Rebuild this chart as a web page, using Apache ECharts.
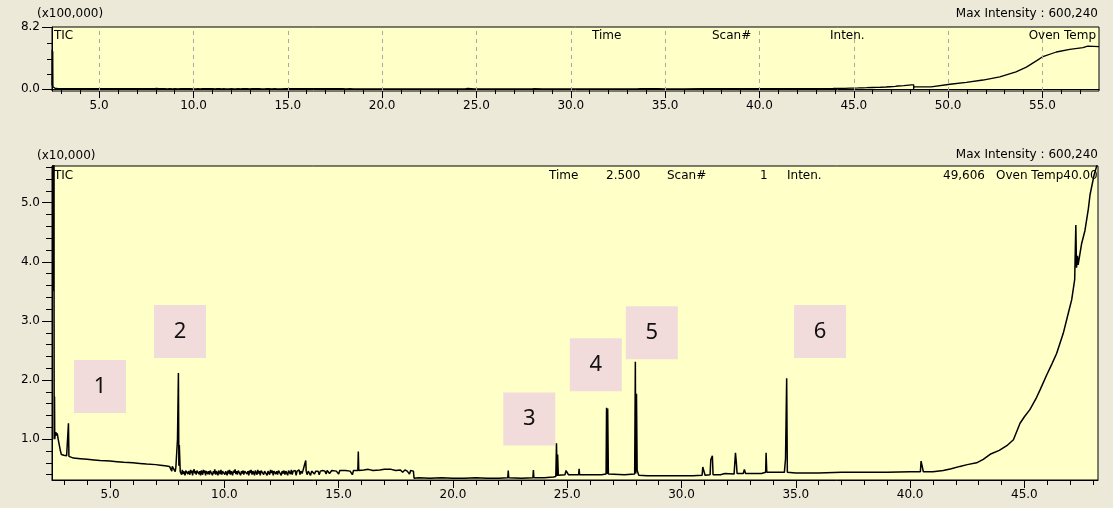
<!DOCTYPE html>
<html>
<head>
<meta charset="utf-8">
<script src="https://cdn.jsdelivr.net/npm/echarts@6/dist/echarts.min.js"></script>
<style>
html, body { margin: 0; padding: 0; background: #ece9d8; }
#main { width: 1113px; height: 508px; }
</style>
</head>
<body>
<div id="main"></div>
<script>
// TIC trace, 2.5 - 48.2 min, intensity in x10,000  ([time, intensity])
var ticStart = [
  [2.50, 4.96], [2.51, 52.0], [2.525, 3.5], [2.54, 50.0], [2.55, 3.1], [2.555, 1.0],
  [2.56, 1.05], [2.57, 1.72], [2.58, 1.0], [2.60, 1.08], [2.63, 1.12], [2.66, 1.06],
  [2.69, 1.10], [2.72, 1.02], [2.75, 0.96], [2.79, 0.88], [2.83, 0.80], [2.87, 0.74],
  [2.92, 0.72], [2.98, 0.73], [3.04, 0.71], [3.10, 0.72], [3.16, 0.70], [3.18, 1.27],
  [3.20, 0.71], [3.24, 0.69]
];
var ticEarly = [
  [3.4, 0.68], [3.7, 0.67], [4.0, 0.66], [4.3, 0.65], [4.56, 0.64], [4.8, 0.635],
  [5.0, 0.63], [5.3, 0.62], [5.6, 0.61], [6.0, 0.60], [6.3, 0.59], [6.6, 0.58],
  [7.0, 0.57], [7.2, 0.56], [7.4, 0.55], [7.6, 0.54], [7.7, 0.46], [7.72, 0.54],
  [7.8, 0.53], [7.85, 0.45], [7.88, 0.53], [7.93, 0.55], [7.95, 1.0], [7.97, 0.98],
  [7.99, 2.12], [8.01, 0.55], [8.03, 0.90], [8.05, 0.88], [8.07, 0.45]
];
var ticNoisy = [
  [8.10, 0.47], [8.13, 0.40], [8.16, 0.48], [8.19, 0.41], [8.22, 0.46], [8.26, 0.46],
  [8.28, 0.39], [8.31, 0.47], [8.35, 0.44], [8.37, 0.49], [8.40, 0.41], [8.43, 0.46],
  [8.47, 0.46], [8.49, 0.40], [8.52, 0.48], [8.56, 0.43], [8.58, 0.47], [8.61, 0.39],
  [8.64, 0.45], [8.68, 0.49], [8.71, 0.42], [8.74, 0.46], [8.77, 0.40], [8.80, 0.47],
  [8.84, 0.44], [8.86, 0.50], [8.89, 0.41], [8.92, 0.46], [8.96, 0.39], [8.99, 0.47],
  [9.02, 0.45], [9.05, 0.40], [9.08, 0.48], [9.12, 0.43], [9.15, 0.47], [9.18, 0.39],
  [9.21, 0.46], [9.25, 0.49], [9.28, 0.41], [9.31, 0.46], [9.35, 0.40], [9.38, 0.47],
  [9.42, 0.44], [9.45, 0.48], [9.48, 0.39], [9.52, 0.46], [9.55, 0.42], [9.58, 0.49],
  [9.62, 0.40], [9.65, 0.46], [9.69, 0.44], [9.72, 0.39], [9.75, 0.47], [9.79, 0.45],
  [9.82, 0.41], [9.85, 0.48], [9.89, 0.40], [9.92, 0.46], [9.96, 0.43], [9.99, 0.49],
  [10.02, 0.40], [10.06, 0.46], [10.09, 0.44], [10.12, 0.39], [10.16, 0.47], [10.19, 0.42],
  [10.23, 0.48], [10.26, 0.40], [10.30, 0.46], [10.33, 0.45], [10.36, 0.39], [10.40, 0.47],
  [10.43, 0.43], [10.47, 0.49], [10.50, 0.41], [10.54, 0.46], [10.57, 0.40], [10.61, 0.47],
  [10.64, 0.44], [10.68, 0.48], [10.71, 0.39], [10.75, 0.46], [10.78, 0.42], [10.82, 0.47],
  [10.85, 0.40], [10.89, 0.46], [10.92, 0.44], [10.96, 0.49], [10.99, 0.41], [11.03, 0.46],
  [11.07, 0.39], [11.10, 0.47], [11.14, 0.43], [11.17, 0.48], [11.21, 0.40], [11.25, 0.46],
  [11.28, 0.44], [11.32, 0.39], [11.35, 0.47], [11.39, 0.45], [11.43, 0.40], [11.46, 0.48],
  [11.50, 0.42], [11.54, 0.46], [11.57, 0.39], [11.61, 0.47], [11.65, 0.44], [11.68, 0.49],
  [11.72, 0.40], [11.76, 0.46], [11.80, 0.43], [11.83, 0.47], [11.87, 0.39], [11.91, 0.46],
  [11.95, 0.45], [11.98, 0.40], [12.02, 0.48], [12.06, 0.43], [12.10, 0.47], [12.14, 0.39],
  [12.17, 0.46], [12.21, 0.49], [12.25, 0.41], [12.29, 0.46], [12.33, 0.40], [12.37, 0.47],
  [12.41, 0.44], [12.45, 0.48], [12.49, 0.39], [12.53, 0.46], [12.57, 0.42], [12.61, 0.47],
  [12.65, 0.40], [12.69, 0.46], [12.73, 0.44], [12.77, 0.39], [12.81, 0.47], [12.85, 0.45],
  [12.89, 0.41], [12.93, 0.48], [12.97, 0.40], [13.01, 0.46], [13.05, 0.43], [13.10, 0.47],
  [13.14, 0.39], [13.18, 0.46], [13.22, 0.44], [13.27, 0.48], [13.31, 0.40], [13.35, 0.46],
  [13.40, 0.42], [13.44, 0.47], [13.48, 0.45], [13.52, 0.46], [13.56, 0.64], [13.58, 0.46],
  [13.62, 0.40], [13.67, 0.46], [13.72, 0.44], [13.77, 0.39], [13.82, 0.46], [13.88, 0.47],
  [13.94, 0.41], [14.0, 0.46], [14.1, 0.46], [14.15, 0.40], [14.2, 0.46], [14.3, 0.47],
  [14.4, 0.46], [14.45, 0.41], [14.5, 0.47], [14.6, 0.42], [14.7, 0.47], [14.9, 0.46],
  [15.0, 0.41], [15.05, 0.47], [15.3, 0.47], [15.5, 0.46], [15.6, 0.40], [15.65, 0.47],
  [15.84, 0.47], [15.86, 0.79], [15.88, 0.47], [16.1, 0.48], [16.3, 0.49], [16.5, 0.47],
  [16.8, 0.48], [17.0, 0.49], [17.3, 0.49], [17.5, 0.47], [17.7, 0.48], [17.8, 0.44],
  [17.9, 0.48], [18.0, 0.46], [18.1, 0.41], [18.15, 0.47], [18.27, 0.46], [18.3, 0.34]
];
var ticMid = [
  [18.5, 0.35], [19.0, 0.34], [19.5, 0.35], [20.0, 0.34], [20.5, 0.34], [21.0, 0.35],
  [21.5, 0.34], [22.0, 0.34], [22.4, 0.35], [22.42, 0.47], [22.44, 0.35], [23.0, 0.34],
  [23.5, 0.35], [23.52, 0.48], [23.54, 0.35], [24.0, 0.35], [24.4, 0.36], [24.5, 0.37],
  [24.53, 0.93], [24.56, 0.38], [24.58, 0.74], [24.61, 0.39], [24.9, 0.40], [24.95, 0.47],
  [25.0, 0.46], [25.05, 0.40], [25.5, 0.40], [25.52, 0.50], [25.54, 0.40], [26.0, 0.40],
  [26.5, 0.40], [26.7, 0.41], [26.72, 1.53], [26.75, 0.41], [26.77, 1.52], [26.8, 0.41],
  [27.5, 0.40], [27.95, 0.41], [27.98, 2.31], [28.0, 0.42], [28.03, 1.77], [28.06, 0.47],
  [28.1, 0.48], [28.13, 0.39], [28.5, 0.38], [29.0, 0.38], [29.5, 0.38], [30.0, 0.38],
  [30.5, 0.38], [30.9, 0.39], [30.93, 0.53], [31.0, 0.53], [31.03, 0.39], [31.25, 0.40],
  [31.28, 0.65], [31.32, 0.62], [31.35, 0.72], [31.38, 0.40], [31.7, 0.40], [31.75, 0.42],
  [31.9, 0.42], [31.95, 0.40], [32.3, 0.41], [32.36, 0.77], [32.40, 0.60], [32.43, 0.42],
  [32.7, 0.42], [32.75, 0.49], [32.8, 0.42], [33.5, 0.42], [33.68, 0.44], [33.7, 0.77],
  [33.73, 0.44], [34.5, 0.44], [34.55, 0.67], [34.6, 2.03], [34.63, 0.44], [35.0, 0.43],
  [36.0, 0.43], [37.0, 0.44], [38.0, 0.44], [39.0, 0.44], [40.0, 0.45], [40.45, 0.45],
  [40.48, 0.63], [40.55, 0.63], [40.58, 0.45], [41.0, 0.45]
];
var ticRise = [
  [41.45, 0.47], [41.8, 0.50], [42.18, 0.54], [42.5, 0.57], [42.91, 0.60], [43.2, 0.66],
  [43.5, 0.745], [43.9, 0.81], [44.23, 0.89], [44.52, 0.99], [44.81, 1.27], [45.0, 1.38],
  [45.24, 1.50], [45.5, 1.68], [45.68, 1.83], [45.98, 2.09], [46.2, 2.27], [46.41, 2.45],
  [46.7, 2.79], [46.92, 3.13], [47.07, 3.36], [47.2, 3.7], [47.25, 4.62], [47.28, 3.9],
  [47.32, 4.1], [47.35, 3.95], [47.5, 4.3], [47.65, 4.53], [47.8, 4.9], [47.87, 5.13],
  [48.05, 5.47], [48.18, 5.64], [48.25, 5.8]
];
// remainder of the run, overview only, intensity in x100,000
var ticTail = [
  [48.15, 0.55], [48.17, 0.02], [48.2, 0.30], [49.1, 0.30], [49.15, 0.45], [50.1, 0.64],
  [50.97, 0.90], [51.85, 1.20], [52.74, 1.62], [53.6, 2.27], [54.15, 2.90], [54.7, 3.76],
  [55.03, 4.30], [55.74, 4.90], [56.45, 5.25], [57.15, 5.47], [57.4, 5.68], [57.5, 5.60],
  [58.0, 5.60]
];

// numbered peak boxes
var peakLabels = ['1', '2', '3', '4', '5', '6'];
var peakLabelTime = [4.56, 8.06, 23.34, 26.25, 28.70, 36.06];
var peakLabelInten = [1.89, 2.82, 1.34, 2.26, 2.80, 2.82];

// axis labels
var topXLabels = [5, 10, 15, 20, 25, 30, 35, 40, 45, 50, 55];
var bottomXLabels = [5, 10, 15, 20, 25, 30, 35, 40, 45];
var topYLabels = [0, 8.2];
var bottomYLabels = [1, 2, 3, 4, 5];

var ticWindow = ticStart.concat(ticEarly, ticNoisy, ticMid, ticRise);
var overview = ticWindow.map(function (p) { return [p[0], p[1] / 10]; }).concat(ticTail);

function minorList(from, to, step, skip) {
  var out = [];
  for (var v = from; v <= to + 1e-9; v += step) {
    var r = Math.round(v * 10) / 10;
    if (skip.indexOf(r) < 0) out.push(r);
  }
  return out;
}

var FONT = 'DejaVu Sans';
var fmt1 = function (v) { return v.toFixed(1); };

function mainX(grid, min, max, labels, len) {
  return {
    type: 'value', gridIndex: grid, min: min, max: max, position: 'bottom',
    axisLine: { show: true, lineStyle: { color: '#000', width: 1 } },
    axisTick: { show: true, customValues: labels, length: len, lineStyle: { color: '#000' } },
    axisLabel: { show: true, customValues: labels, formatter: fmt1, color: '#000',
      fontFamily: FONT, fontSize: 12, margin: 9 },
    splitLine: { show: false }
  };
}
function minorX(grid, min, max, ticks, len) {
  return {
    type: 'value', gridIndex: grid, min: min, max: max, position: 'bottom',
    axisLine: { show: false },
    axisTick: { show: true, customValues: ticks, length: len, lineStyle: { color: '#000' } },
    axisLabel: { show: false },
    splitLine: { show: false }
  };
}
function mainY(grid, min, max, labels, len) {
  return {
    type: 'value', gridIndex: grid, min: min, max: max, position: 'left',
    axisLine: { show: true, lineStyle: { color: '#000', width: 1 } },
    axisTick: { show: true, customValues: labels, length: len, lineStyle: { color: '#000' } },
    axisLabel: { show: true, customValues: labels, formatter: fmt1, color: '#000',
      fontFamily: FONT, fontSize: 12, margin: 12 },
    splitLine: { show: false }
  };
}
function minorY(grid, min, max, ticks, len) {
  return {
    type: 'value', gridIndex: grid, min: min, max: max, position: 'left',
    axisLine: { show: false },
    axisTick: { show: true, customValues: ticks, length: len, lineStyle: { color: '#000' } },
    axisLabel: { show: false },
    splitLine: { show: false }
  };
}

function txt(x, y, s, align) {
  return {
    type: 'text', x: x, y: y, silent: true, z: 100,
    style: { text: s, fill: '#000', font: '12px "' + FONT + '"',
      align: align || 'left', textAlign: align || 'left',
      verticalAlign: 'middle', textVerticalAlign: 'middle' }
  };
}

var chart = echarts.init(document.getElementById('main'));
chart.setOption({
  animation: false,
  backgroundColor: '#ece9d8',
  grid: [
    { left: 52, right: 14, top: 27, height: 64, show: true, backgroundColor: '#ffffc8',
      borderColor: '#000', borderWidth: 1, containLabel: false, outerBoundsMode: 'none' },
    { left: 52, right: 15, top: 166, bottom: 28, show: true, backgroundColor: '#ffffc8',
      borderColor: '#000', borderWidth: 1, containLabel: false, outerBoundsMode: 'none' }
  ],
  xAxis: [
    mainX(0, 2.5, 58, topXLabels, 9),
    minorX(0, 2.5, 58, minorList(3, 57, 1, topXLabels), 5),
    mainX(1, 2.46, 48.22, bottomXLabels, 8),
    minorX(1, 2.46, 48.22, minorList(3, 48, 1, bottomXLabels), 5)
  ],
  yAxis: [
    mainY(0, -0.25, 8.2, topYLabels, 10),
    minorY(0, -0.25, 8.2, [2, 4, 6], 5),
    mainY(1, 0.31, 5.62, bottomYLabels, 10),
    minorY(1, 0.31, 5.62, minorList(0.4, 5.6, 0.2, bottomYLabels), 6)
  ],
  series: [
    {
      name: 'overview', type: 'line', xAxisIndex: 0, yAxisIndex: 0,
      data: overview, symbol: 'none', showSymbol: false, clip: true,
      lineStyle: { color: '#000', width: 1.3 },
      markLine: {
        silent: true, symbol: 'none', label: { show: false },
        lineStyle: { color: '#a8a8a8', type: [4, 4], width: 1 },
        data: topXLabels.map(function (t) { return { xAxis: t }; })
      }
    },
    {
      name: 'TIC', type: 'line', xAxisIndex: 2, yAxisIndex: 2,
      data: ticWindow, symbol: 'none', showSymbol: false, clip: true,
      lineStyle: { color: '#000', width: 1.5 }, z: 3
    },
    {
      name: 'peaks', type: 'scatter', xAxisIndex: 2, yAxisIndex: 2, silent: true, z: 1,
      symbol: 'rect', symbolSize: [52, 53],
      itemStyle: { color: '#f2dcdb', opacity: 1 },
      label: {
        show: true, position: 'inside', color: '#111', fontFamily: 'Noto Sans', fontSize: 22,
        formatter: function (p) { return peakLabels[p.dataIndex]; }
      },
      data: peakLabelTime.map(function (t, i) { return [t, peakLabelInten[i]]; })
    }
  ],
  graphic: [
    txt(37, 14, '(x100,000)'),
    txt(1098, 14, 'Max Intensity : 600,240', 'right'),
    txt(54, 36, 'TIC'),
    txt(592, 36, 'Time'),
    txt(712, 36, 'Scan#'),
    txt(830, 36, 'Inten.'),
    txt(1096, 36, 'Oven Temp', 'right'),
    txt(37, 156, '(x10,000)'),
    txt(1098, 155, 'Max Intensity : 600,240', 'right'),
    txt(54, 176, 'TIC'),
    txt(549, 176, 'Time'),
    txt(606, 176, '2.500'),
    txt(667, 176, 'Scan#'),
    txt(760, 176, '1'),
    txt(787, 176, 'Inten.'),
    txt(985, 176, '49,606', 'right'),
    txt(996, 176, 'Oven Temp40.00')
  ]
});
</script>
</body>
</html>
